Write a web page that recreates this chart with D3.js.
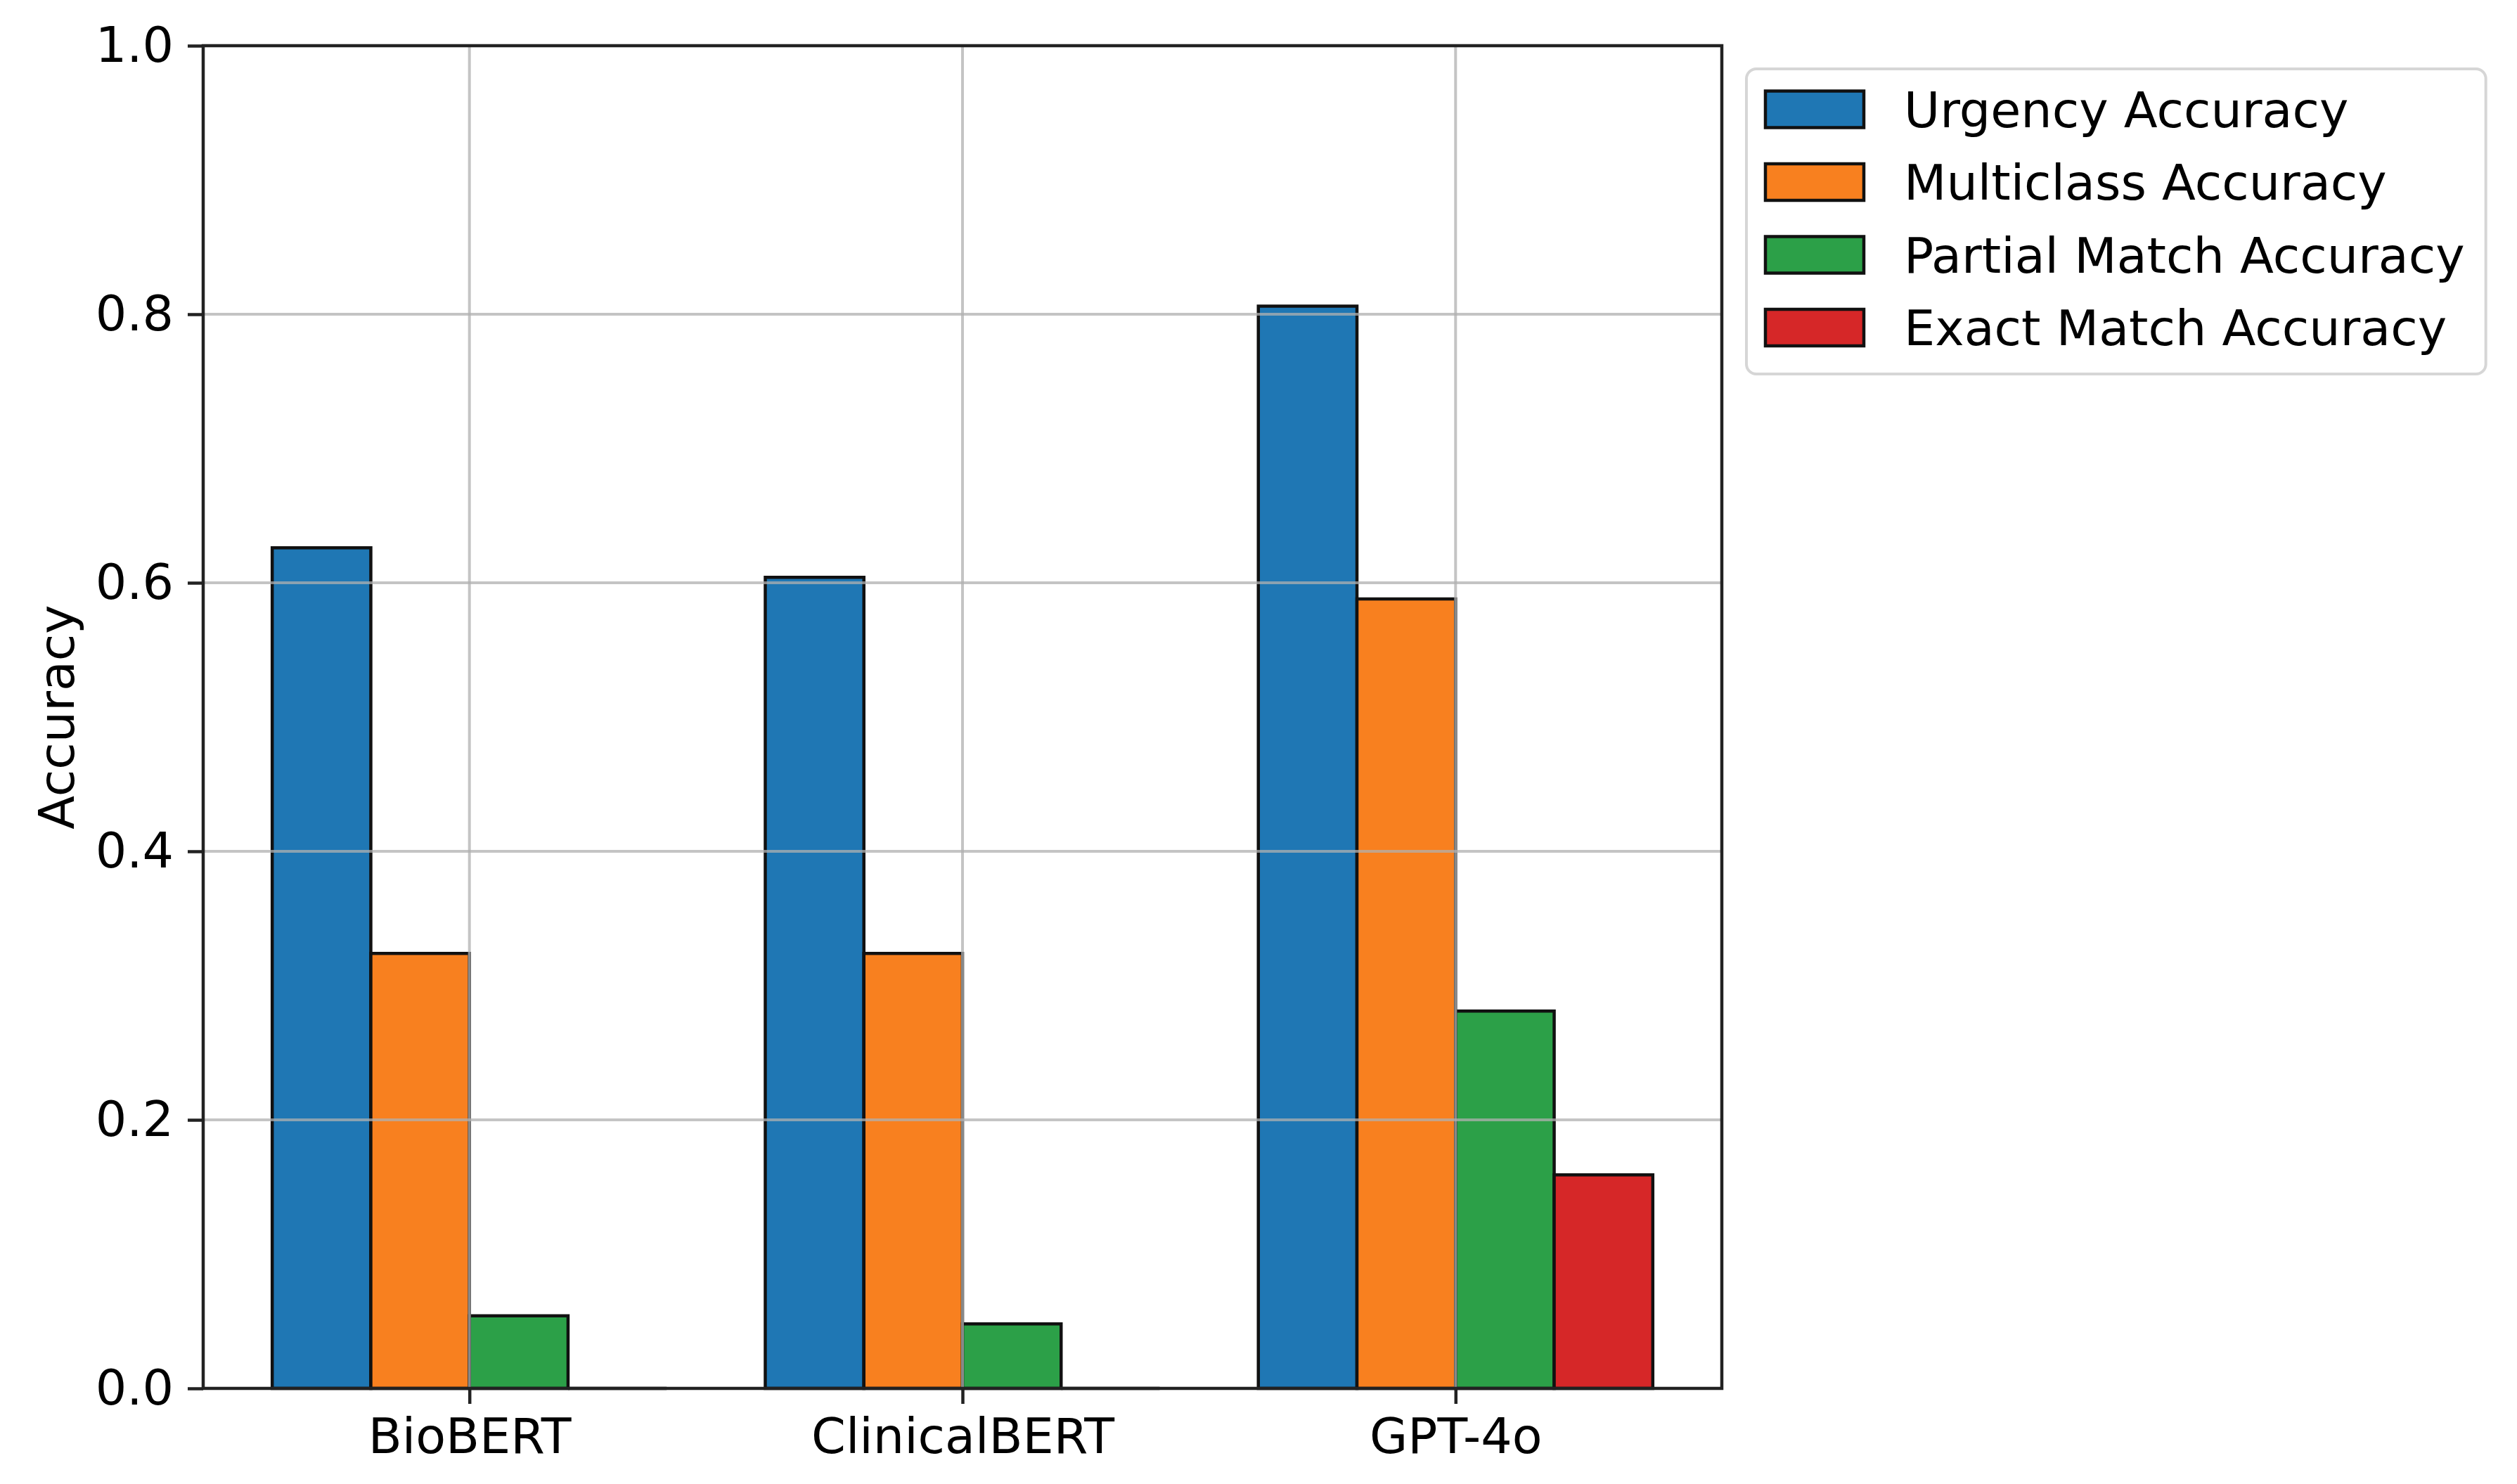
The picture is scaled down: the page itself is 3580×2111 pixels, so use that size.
<!DOCTYPE html>
<html>
<head>
<meta charset="utf-8">
<style>
  body { margin: 0; background: #ffffff; }
  svg text { font-family: "DejaVu Sans", sans-serif; fill: #000; }
</style>
<script src="https://cdn.jsdelivr.net/npm/d3@7"></script>
</head>
<body>
<div id="chart"></div>
<script type="text/javascript">
// data
var models = ["BioBERT", "ClinicalBERT", "GPT-4o"];
var seriesNames = ["Urgency Accuracy", "Multiclass Accuracy", "Partial Match Accuracy", "Exact Match Accuracy"];
var urgency    = [0.626, 0.604, 0.806];
var multiclass = [0.324, 0.324, 0.588];
var partial    = [0.054, 0.048, 0.281];
var exact      = [0.0,   0.0,   0.159];
var yTicks = [0.0, 0.2, 0.4, 0.6, 0.8, 1.0];
var colors = ["#1f77b4", "#f8801f", "#2ca048", "#d62728"];

var series = [urgency, multiclass, partial, exact];

var w = 3580,
    h = 2111,
    fs = 70;

var plot = {left: 289, right: 2449, top: 65, bottom: 1975};
var barW = 0.2;

var svg = d3.select("#chart")
        .append("svg")
        .attr("width", w)
        .attr("height", h);

svg.append("rect").attr("width", w).attr("height", h).attr("fill", "#fff");

// x in category units, matplotlib style margins around the bar groups
var x = d3.scaleLinear()
        .domain([-0.54, models.length - 1 + 0.54])
        .range([plot.left, plot.right]);

var y = d3.scaleLinear()
        .domain([0, 1])
        .range([plot.bottom, plot.top]);

// bars (paths so zero-height bars still show their edge)
var bars = [];
series.forEach(function(vals, s) {
  vals.forEach(function(v, i) {
    bars.push({s: s, i: i, v: v});
  });
});

svg.append("g").selectAll("path")
  .data(bars)
  .enter().append("path")
  .attr("d", function(d) {
    var x0 = x(d.i + (d.s - 2) * barW),
        x1 = x(d.i + (d.s - 1) * barW),
        y0 = y(0),
        y1 = y(d.v);
    return "M" + x0 + "," + y0 + "H" + x1 + "V" + y1 + "H" + x0 + "Z";
  })
  .attr("fill", function(d) { return colors[d.s]; })
  .attr("stroke", "#111")
  .attr("stroke-width", 4.5)
  .attr("stroke-linejoin", "miter");

// grid, on top of the bars
var grid = svg.append("g")
  .attr("stroke", "#b0b0b0")
  .attr("stroke-width", 4)
  .attr("stroke-opacity", 0.75);

grid.selectAll("line.h")
  .data(yTicks.slice(1, -1))
  .enter().append("line")
  .attr("x1", plot.left).attr("x2", plot.right)
  .attr("y1", function(d) { return y(d); })
  .attr("y2", function(d) { return y(d); });

grid.selectAll("line.v")
  .data(d3.range(models.length))
  .enter().append("line")
  .attr("y1", plot.top).attr("y2", plot.bottom)
  .attr("x1", function(d) { return x(d); })
  .attr("x2", function(d) { return x(d); });

// axes
var yAxis = d3.axisLeft(y)
  .tickValues(yTicks)
  .tickFormat(d3.format(".1f"))
  .tickSize(22)
  .tickPadding(20);

var gy = svg.append("g")
  .attr("transform", "translate(" + plot.left + ",0)")
  .call(yAxis);

var xAxis = d3.axisBottom(x)
  .tickValues(d3.range(models.length))
  .tickFormat(function(d) { return models[d]; })
  .tickSize(22)
  .tickPadding(20);

var gx = svg.append("g")
  .attr("transform", "translate(0," + plot.bottom + ")")
  .call(xAxis);

[gx, gy].forEach(function(g) {
  g.select(".domain").remove();
  g.selectAll(".tick line").attr("stroke", "#222").attr("stroke-width", 4.5);
  g.selectAll(".tick text")
    .attr("font-size", fs)
    .attr("font-family", "DejaVu Sans")
    .attr("fill", "#000");
});

// spines
svg.append("rect")
  .attr("x", plot.left).attr("y", plot.top)
  .attr("width", plot.right - plot.left)
  .attr("height", plot.bottom - plot.top)
  .attr("fill", "none")
  .attr("stroke", "#222")
  .attr("stroke-width", 4.5);

// y label
svg.append("text")
  .attr("transform", "translate(105," + ((plot.top + plot.bottom) / 2) + ") rotate(-90)")
  .attr("text-anchor", "middle")
  .attr("font-size", fs)
  .text("Accuracy");

// legend
var leg = {x: 2484, y: 98, rowH: 103.5, first: 155.5};
var legG = svg.append("g");

var legBox = legG.append("rect")
  .attr("x", leg.x).attr("y", leg.y)
  .attr("width", 1040)
  .attr("height", 434)
  .attr("rx", 14).attr("ry", 14)
  .attr("fill", "#fff")
  .attr("fill-opacity", 0.8)
  .attr("stroke", "#d6d6d6")
  .attr("stroke-width", 4);

var rows = legG.selectAll("g.row")
  .data(seriesNames)
  .enter().append("g")
  .attr("transform", function(d, i) { return "translate(0," + (leg.first + i * leg.rowH) + ")"; });

rows.append("rect")
  .attr("x", 2511).attr("y", -26)
  .attr("width", 140).attr("height", 52)
  .attr("fill", function(d, i) { return colors[i]; })
  .attr("stroke", "#111")
  .attr("stroke-width", 4.5);

rows.append("text")
  .attr("x", 2708)
  .attr("y", 25)
  .attr("font-size", fs)
  .text(function(d) { return d; });

// fit the legend frame to its text
var maxR = 0;
rows.selectAll("text").each(function() {
  var b = this.getBBox();
  maxR = Math.max(maxR, b.x + b.width);
});
legBox.attr("width", maxR + 30 - leg.x);
</script>
</body>
</html>
